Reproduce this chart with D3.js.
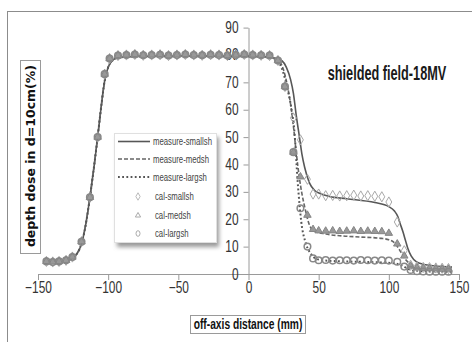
<!DOCTYPE html>
<html>
<head>
<meta charset="utf-8">
<script src="https://cdn.jsdelivr.net/npm/d3@7"></script>
<style>
  body { margin: 0; background: #fff; }
  svg { display: block; }
</style>
</head>
<body>
<div id="chart"></div>
<script>
const width = 472,
      height = 342;

// measured profiles (mm, % dose)
const smallX = [-145,-138,-130,-125,-122,-119,-116,-113,-110,-107.5,-105,-102.5,-100,-97,-93,-80,-50,0,15,20,
                24,27,30,32,34,36.3,38,40,43.5,47,50.6,57.7,70,90,100,104,106.4,108,110,112,113.5,116,119.5,125,132,138.5,145],
      smallY = [4.2,4.3,4.8,6,7.6,11,18,28,39.5,50,61,70.5,75.5,78,79,79.5,79.6,79.5,79.2,78.6,
                77.8,75.5,71,66,58,50,44,39,33.2,30.6,29.5,28.3,27.5,26.1,24.6,23,21,18.5,15.5,12,9.4,6.5,4.5,3.5,3,2.7,2.5];

const medX = [-145,-138,-130,-125,-122,-119,-116,-113,-110,-107.5,-105,-102.5,-100,-97,-93,-80,-50,0,15,20,
              22,25,28,30,32,34,36.3,38,40,43.5,47,55,67,80,95,100,103,105.5,107.6,110,112.4,116,119.5,130,145],
      medY = [4.2,4.3,4.8,6,7.6,11,18,28,39.5,50,61,70.5,75.5,78,79,79.5,79.6,79.5,79.2,78.6,
              77.8,74.5,68,62,54,44.5,35,29.5,24.6,17.8,15.6,14.6,13.9,13.5,13,12.5,11.8,10.5,8.8,6.8,5,3.5,2.7,2.1,1.8];

const largeX = [-145,-138,-130,-125,-122,-119,-116,-113,-110,-107.5,-105,-102.5,-100,-97,-93,-80,-50,0,15,
                20,22.5,24.5,28,30.4,32.8,35,37.5,41,44.6,48,55,75,95,105,110,114,118,125,145],
      largeY = [4.2,4.3,4.8,6,7.6,11,18,28,39.5,50,61,70.5,75.5,78,79,79.5,79.6,79.5,79.2,
                78,76.5,74,67,61,51.5,34,19.5,11,7.3,5.6,4.9,4.5,4.2,3.8,2.9,1.8,1.2,1,0.8];

// calculated points
const calX = [-144,-139.5,-135,-130,-125.5,-119,-113,-107.5,-102.5,-99,
              -93,-87,-81,-75,-69,-63,-57,-51,-45,-39,-33,-27,-21,-15,-9,-3,3,9,15,21,
              26,32,37,42,46,50,55,60,65,70,75,80,85,90,95,100,106,111,115.5,120,124.5,129,133.5,138,142.5];

const calSmall = [4.6,4.4,4.6,5,6.2,11.8,28,50,73,78.7,
                  79.8,80,80.2,79.9,80,80.1,79.8,80,80.2,80,79.9,80.1,80,79.8,80,80.2,80,79.9,79.8,78,
                  68.5,57,49,34.6,29.2,29.2,28.6,28.7,28.5,28.6,28.8,28.5,28.6,28.4,28.2,26.3,19,8.5,3.2,2.6,2.4,2.3,2.2,2.1,2],
      calMed = [4.6,4.4,4.6,5,6.2,11.8,28,50,73,78.7,
                79.8,80,80.2,79.9,80,80.1,79.8,80,80.2,80,79.9,80.1,80,79.8,80,80.2,80,79.9,79.8,78,
                68.5,44.5,35.5,21.5,16.3,15.8,15.7,15.8,15.6,15.7,15.8,15.6,15.7,15.6,15.5,14.9,11,6.6,2.9,2.3,2.1,2,1.9,1.8,1.8],
      calLarge = [4.6,4.4,4.6,5,6.2,11.8,28,50,73,78.7,
                  79.8,80,80.2,79.9,80,80.1,79.8,80,80.2,80,79.9,80.1,80,79.8,80,80.2,80,79.9,79.8,78,
                  68.5,44.5,24,10,5.7,5,5.1,4.9,5,5,4.9,5.1,5,4.9,5,4.9,4.5,2.7,1.5,1,0.9,0.8,0.8,0.8,0.8];

const xTicks = [-150,-100,-50,0,50,100,150],
      yTicks = [0,10,20,30,40,50,60,70,80,90];

const legendLabels = ['measure-smallsh','measure-medsh','measure-largsh','cal-smallsh','cal-medsh','cal-largsh'];

const svg = d3.select('#chart').append('svg')
    .attr('width', width)
    .attr('height', height);

svg.append('rect')
    .attr('x', 7.5).attr('y', 11.5)
    .attr('width', 500).attr('height', 400)
    .attr('fill', '#fff')
    .attr('stroke', '#8c8c8c');

const xScale = d3.scaleLinear().domain([-150, 150]).range([38, 459]),
      yScale = d3.scaleLinear().domain([0, 90]).range([274, 27.6]);

// the original uses a narrow font; squeeze Liberation Sans instead
const font = '"Liberation Sans", Arial, sans-serif';

const xAxis = svg.append('g')
    .attr('transform', `translate(0, ${yScale(0)})`)
    .call(d3.axisBottom(xScale).tickValues(xTicks).tickSize(6).tickSizeOuter(0));

const yAxis = svg.append('g')
    .attr('transform', `translate(${xScale(0)}, 0)`)
    .call(d3.axisLeft(yScale).tickValues(yTicks).tickSize(5).tickSizeOuter(0));

[xAxis, yAxis].forEach(a => {
  a.select('.domain').attr('stroke', '#9a9a9a');
  a.selectAll('.tick line').attr('stroke', '#9a9a9a');
  a.selectAll('.tick text')
    .attr('fill', '#333')
    .attr('x', 0).attr('y', 0).attr('dy', null)
    .style('font-family', font)
    .style('font-size', '14px');
});
xAxis.selectAll('.tick text').attr('transform', 'translate(0, 19) scale(0.85, 1.15)');
yAxis.selectAll('.tick text').attr('transform', 'translate(-10, 5) scale(0.85, 1.15)');

// lines
const line = d3.line()
    .x(d => xScale(d[0]))
    .y(d => yScale(d[1]))
    .curve(d3.curveMonotoneX);

const series = [
  { x: smallX, y: smallY, dash: null, w: 1.6, c: '#575757' },
  { x: medX, y: medY, dash: '4,2', w: 1.6, c: '#666' },
  { x: largeX, y: largeY, dash: '1.8,2.4', w: 2, c: '#555' }
];

svg.selectAll('.mline')
  .data(series)
  .enter().append('path')
    .attr('class', 'mline')
    .attr('fill', 'none')
    .attr('stroke', d => d.c)
    .attr('stroke-width', d => d.w)
    .attr('stroke-dasharray', d => d.dash)
    .attr('d', d => line(d.x.map((v, i) => [v, d.y[i]])));

// markers
const diamond = d3.symbol().type(d3.symbolDiamond).size(30),
      triangle = d3.symbol().type(d3.symbolTriangle).size(24);

const pts = vals => calX.map((v, i) => [v, vals[i]]);

svg.append('g').selectAll('path')
  .data(pts(calSmall))
  .enter().append('path')
    .attr('d', diamond)
    .attr('transform', d => `translate(${xScale(d[0])}, ${yScale(d[1])})`)
    .attr('fill', 'none')
    .attr('stroke', '#a8a8a8')
    .attr('stroke-width', 1);

svg.append('g').selectAll('path')
  .data(pts(calMed))
  .enter().append('path')
    .attr('d', triangle)
    .attr('transform', d => `translate(${xScale(d[0])}, ${yScale(d[1])})`)
    .attr('fill', '#999')
    .attr('stroke', '#858585')
    .attr('stroke-width', 1);

svg.append('g').selectAll('circle')
  .data(pts(calLarge))
  .enter().append('circle')
    .attr('cx', d => xScale(d[0]))
    .attr('cy', d => yScale(d[1]))
    .attr('r', 3.3)
    .attr('fill', 'none')
    .attr('stroke', '#888')
    .attr('stroke-width', 1.5);

// title
svg.append('text')
    .attr('transform', 'translate(387, 80) scale(0.82, 1.3)')
    .attr('text-anchor', 'middle')
    .style('font-family', font)
    .style('font-size', '15.5px')
    .style('font-weight', 'bold')
    .attr('fill', '#1a1a1a')
    .text('shielded field-18MV');

// axis titles in boxes
svg.append('rect')
    .attr('x', 190.5).attr('y', 315.5).attr('width', 115).attr('height', 18)
    .attr('fill', '#fff').attr('stroke', '#9a9a9a');
svg.append('text')
    .attr('transform', 'translate(248, 329) scale(0.82, 1.2)')
    .attr('text-anchor', 'middle')
    .style('font-family', font)
    .style('font-size', '12.5px')
    .style('font-weight', 'bold')
    .attr('fill', '#111')
    .text('off-axis distance (mm)');

svg.append('rect')
    .attr('x', 20.5).attr('y', 60.5).attr('width', 20).attr('height', 193)
    .attr('fill', '#fff').attr('stroke', '#9a9a9a');
svg.append('text')
    .attr('transform', 'translate(35, 156) rotate(-90)')
    .attr('text-anchor', 'middle')
    .style('font-family', '"DejaVu Sans", sans-serif')
    .style('font-size', '12.5px')
    .style('font-weight', 'bold')
    .attr('fill', '#111')
    .text('depth dose in d=10cm(%)');

// legend
const defs = svg.append('defs');
const f = defs.append('filter').attr('id', 'shadow').attr('x', '-20%').attr('y', '-20%').attr('width', '150%').attr('height', '150%');
f.append('feGaussianBlur').attr('stdDeviation', 2);

const lg = svg.append('g');
lg.append('rect')
    .attr('x', 117).attr('y', 137).attr('width', 102).attr('height', 110)
    .attr('fill', '#999').attr('filter', 'url(#shadow)');
lg.append('rect')
    .attr('x', 114.5).attr('y', 133.5).attr('width', 102).attr('height', 109)
    .attr('fill', '#fff').attr('stroke', '#e0e0e0');

const rowY = [141.5, 159, 177, 196.5, 215.5, 233.5];

legendLabels.forEach((lab, i) => {
  const y = rowY[i];
  if (i < 3) {
    lg.append('line')
      .attr('x1', 118).attr('x2', 150).attr('y1', y).attr('y2', y)
      .attr('stroke', series[i].c)
      .attr('stroke-width', series[i].w)
      .attr('stroke-dasharray', series[i].dash);
  } else if (i === 3) {
    lg.append('path').attr('d', d3.symbol().type(d3.symbolDiamond).size(16))
      .attr('transform', `translate(138, ${y})`)
      .attr('fill', 'none').attr('stroke', '#bbb');
  } else if (i === 4) {
    lg.append('path').attr('d', d3.symbol().type(d3.symbolTriangle).size(12))
      .attr('transform', `translate(138, ${y})`)
      .attr('fill', 'none').attr('stroke', '#aaa');
  } else {
    lg.append('ellipse').attr('cx', 138).attr('cy', y).attr('rx', 2).attr('ry', 2.8)
      .attr('fill', 'none').attr('stroke', '#aaa');
  }
  lg.append('text')
    .attr('transform', `translate(${i < 3 ? 153 : 155}, ${y + 3.5}) scale(0.8, 1.15)`)
    .style('font-family', font)
    .style('font-size', '9.7px')
    .attr('fill', '#444')
    .text(lab);
});
</script>
</body>
</html>
